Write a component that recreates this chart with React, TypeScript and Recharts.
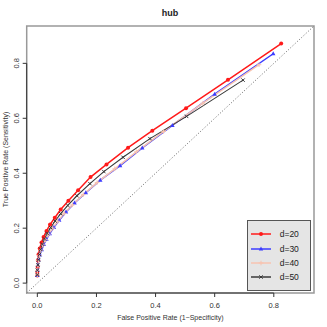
import React from "react";
import { LineChart, Line, XAxis, YAxis, ReferenceLine, ReferenceArea } from "recharts";

const ticks = [0, 0.2, 0.4, 0.6, 0.8];
const tickLabels = ["0.0", "0.2", "0.4", "0.6", "0.8"];

const d20x = [0.825, 0.645, 0.503, 0.389, 0.307, 0.234, 0.180, 0.138, 0.105, 0.079, 0.059, 0.043, 0.031, 0.021, 0.014, 0.008, 0.004, 0.002, 0.001, 0.0, 0.0];
const d20y = [0.872, 0.740, 0.637, 0.555, 0.493, 0.432, 0.386, 0.338, 0.300, 0.268, 0.238, 0.213, 0.190, 0.168, 0.148, 0.126, 0.104, 0.082, 0.060, 0.040, 0.028];

const d30x = [0.798, 0.600, 0.457, 0.355, 0.280, 0.213, 0.164, 0.126, 0.097, 0.074, 0.056, 0.042, 0.031, 0.022, 0.015, 0.009, 0.005, 0.002, 0.001, 0.0];
const d30y = [0.835, 0.688, 0.574, 0.492, 0.428, 0.375, 0.329, 0.292, 0.259, 0.229, 0.203, 0.180, 0.160, 0.141, 0.122, 0.104, 0.085, 0.066, 0.047, 0.028];

const d40x = [0.750, 0.560, 0.427, 0.335, 0.262, 0.202, 0.155, 0.119, 0.091, 0.069, 0.052, 0.038, 0.028, 0.019, 0.012, 0.007, 0.004, 0.002, 0.0, 0.0];
const d40y = [0.795, 0.655, 0.552, 0.478, 0.416, 0.366, 0.322, 0.285, 0.254, 0.225, 0.200, 0.178, 0.158, 0.139, 0.120, 0.101, 0.082, 0.063, 0.045, 0.030];

const d50x = [0.696, 0.505, 0.381, 0.290, 0.225, 0.178, 0.134, 0.103, 0.079, 0.060, 0.045, 0.033, 0.024, 0.017, 0.011, 0.007, 0.004, 0.002, 0.0, 0.0];
const d50y = [0.739, 0.607, 0.526, 0.458, 0.406, 0.362, 0.318, 0.283, 0.253, 0.226, 0.202, 0.181, 0.161, 0.142, 0.123, 0.104, 0.085, 0.066, 0.047, 0.030];

const seriesNames = ["d=20", "d=30", "d=40", "d=50"];
const colors = ["#ff1a1a", "#3c3cff", "#f7c3b0", "#3a3a3a"];
const shapes = ["circle", "triangle", "plus", "cross"];

const toData = (xs: number[], ys: number[]) => xs.map((x, i) => ({ x, y: ys[i] }));
const datasets = [toData(d20x, d20y), toData(d30x, d30y), toData(d40x, d40y), toData(d50x, d50y)];

const DOM: [number, number] = [-0.036, 0.936];
const FONT = "Liberation Sans, Arial, Helvetica, sans-serif";

function Marker({ shape, cx, cy, color }: { shape: string; cx: number; cy: number; color: string }) {
  if (shape === "circle") return <circle cx={cx} cy={cy} r={2} fill={color} stroke="none" />;
  if (shape === "triangle")
    return <polygon points={`${cx},${cy - 2.4} ${cx - 2.2},${cy + 1.6} ${cx + 2.2},${cy + 1.6}`} fill={color} stroke="none" />;
  if (shape === "plus")
    return (
      <g stroke={color} strokeWidth={1}>
        <line x1={cx - 2.3} y1={cy} x2={cx + 2.3} y2={cy} />
        <line x1={cx} y1={cy - 2.3} x2={cx} y2={cy + 2.3} />
      </g>
    );
  return (
    <g stroke={color} strokeWidth={1}>
      <line x1={cx - 1.7} y1={cy - 1.7} x2={cx + 1.7} y2={cy + 1.7} />
      <line x1={cx - 1.7} y1={cy + 1.7} x2={cx + 1.7} y2={cy - 1.7} />
    </g>
  );
}

const makeDot = (idx: number) => (props: any) => {
  const { cx, cy, index } = props;
  return <Marker key={`m${idx}-${index}`} shape={shapes[idx]} cx={cx} cy={cy} color={colors[idx]} />;
};

const XTick = (props: any) => {
  const { x, y, payload } = props;
  const i = ticks.indexOf(payload.value);
  return (
    <text x={x} y={y + 9} textAnchor="middle" fontSize={7.5} fill="#333" fontFamily={FONT}>
      {i >= 0 ? tickLabels[i] : payload.value}
    </text>
  );
};

const YTick = (props: any) => {
  const { y, payload } = props;
  const i = ticks.indexOf(payload.value);
  const x = 19.5;
  return (
    <text x={x} y={y} textAnchor="middle" fontSize={7.5} fill="#333" fontFamily={FONT} transform={`rotate(-90 ${x} ${y})`}>
      {i >= 0 ? tickLabels[i] : payload.value}
    </text>
  );
};

const YLabel = (props: any) => {
  const vb = props.viewBox || {};
  const cy = (vb.y || 0) + (vb.height || 0) / 2;
  const x = 8;
  return (
    <text x={x} y={cy} textAnchor="middle" fontSize={7} fill="#333" fontFamily={FONT} transform={`rotate(-90 ${x} ${cy})`}>
      True Positive Rate (Sensitivity)
    </text>
  );
};

const LegendBox = () => (
  <div
    style={{
      position: "absolute",
      left: 246.7,
      top: 220,
      width: 64,
      height: 71,
      boxSizing: "border-box",
      background: "#e5e5e5",
      border: "1px solid #555",
    }}
  >
    {seriesNames.map((name, i) => (
      <div key={name} style={{ position: "absolute", left: 0, top: 14.3 * (i + 1) - 7 - 1, height: 14, width: 64 }}>
        <svg width={30} height={14} style={{ position: "absolute", left: 0, top: 0 }}>
          <line x1={3} y1={7} x2={23} y2={7} stroke={colors[i]} strokeWidth={1.5} />
          <Marker shape={shapes[i]} cx={13} cy={7} color={colors[i]} />
        </svg>
        <span
          style={{
            position: "absolute",
            left: 32,
            top: 0,
            lineHeight: "14px",
            fontSize: 8.5,
            color: "#222",
            fontFamily: FONT,
          }}
        >
          {name}
        </span>
      </div>
    ))}
  </div>
);

export default function App() {
  return (
    <div style={{ position: "fixed", left: 0, top: 0, width: 327, height: 327, background: "#fff" }}>
      <div
        style={{
          position: "absolute",
          left: 0,
          width: 340,
          top: 8,
          textAlign: "center",
          fontFamily: FONT,
          fontWeight: "bold",
          fontSize: 9,
          color: "#222",
        }}
      >
        hub
      </div>
      <LineChart width={327} height={327} margin={{ top: 26, right: 13, bottom: 0, left: 0 }}>
        <XAxis
          type="number"
          dataKey="x"
          domain={DOM}
          ticks={ticks}
          allowDataOverflow
          height={34}
          axisLine={false}
          tickLine={{ stroke: "#333" }}
          tickSize={4}
          tick={<XTick />}
          label={{ value: "False Positive Rate (1\u2212Specificity)", position: "insideBottom", offset: 7, fontSize: 7, fill: "#333", fontFamily: FONT }}
        />
        <YAxis
          type="number"
          dataKey="y"
          domain={DOM}
          ticks={ticks}
          allowDataOverflow
          width={26.7}
          axisLine={false}
          tickLine={{ stroke: "#333" }}
          tickSize={4}
          tick={<YTick />}
          label={<YLabel />}
        />
        <ReferenceArea x1={DOM[0]} x2={DOM[1]} y1={DOM[0]} y2={DOM[1]} fill="none" stroke="#999" strokeWidth={1.5} ifOverflow="visible" />
        <ReferenceLine segment={[{ x: 0, y: DOM[0] }, { x: 0.8, y: DOM[0] }]} stroke="#333" strokeWidth={1} ifOverflow="visible" />
        <ReferenceLine segment={[{ x: DOM[0], y: 0 }, { x: DOM[0], y: 0.8 }]} stroke="#333" strokeWidth={1} ifOverflow="visible" />
        <ReferenceLine segment={[{ x: DOM[0], y: DOM[0] }, { x: DOM[1], y: DOM[1] }]} stroke="#555" strokeWidth={0.9} strokeDasharray="1 2" ifOverflow="visible" />
        {datasets.map((d, i) => (
          <Line
            key={seriesNames[i]}
            data={d}
            dataKey="y"
            name={seriesNames[i]}
            type="linear"
            stroke={colors[i]}
            strokeWidth={i === 3 ? 1.1 : 1.5}
            dot={makeDot(i)}
            activeDot={false}
            isAnimationActive={false}
          />
        ))}
      </LineChart>
      <LegendBox />
    </div>
  );
}
